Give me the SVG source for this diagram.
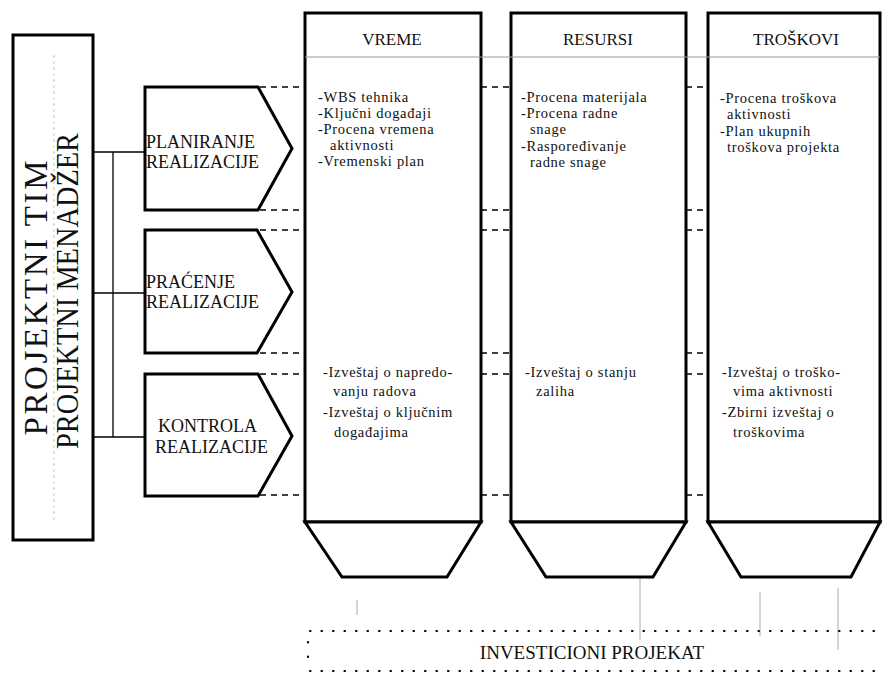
<svg xmlns="http://www.w3.org/2000/svg" width="886" height="675" viewBox="0 0 886 675">
<style>
.box{fill:#fff;stroke:#000;stroke-width:3;stroke-linejoin:miter}
.t{font-family:"Liberation Serif","Times New Roman",serif;fill:#111}
.body{font-size:14.5px;letter-spacing:0.7px}
.head{font-size:17px;text-anchor:middle}
.pt{font-size:18px}
.dash{stroke:#000;stroke-width:1.3;stroke-dasharray:6 5;fill:none}
.conn{stroke:#000;stroke-width:1.3;fill:none}
.faint{stroke:#aaa;stroke-width:1;fill:none}
.dots{stroke:#000;stroke-width:2.2;stroke-linecap:round;stroke-dasharray:0.5 11;fill:none}
</style>
<rect width="886" height="675" fill="#fff"/>

<g id="connectors">
  <line class="conn" x1="113" y1="152" x2="113" y2="437"/>
  <line class="conn" x1="93" y1="152" x2="146" y2="152"/>
  <line class="conn" x1="93" y1="293" x2="146" y2="293"/>
  <line class="conn" x1="93" y1="437" x2="146" y2="437"/>
  <g id="dashed-guides">
    <path class="dash" d="M260 87H305M481 87H511M686 87H708"/>
    <path class="dash" d="M260 210H305M481 210H511M686 210H708"/>
    <path class="dash" d="M260 230H305M481 230H511M686 230H708"/>
    <path class="dash" d="M260 353H305M481 353H511M686 353H708"/>
    <path class="dash" d="M260 374H305M481 374H511M686 374H708"/>
    <path class="dash" d="M260 495H305M481 495H511M686 495H708"/>
  </g>
  <g id="bottom-links">
    <line class="faint" x1="357" y1="600" x2="357" y2="615"/>
    <line class="faint" x1="640" y1="578" x2="640" y2="640"/>
    <line class="faint" x1="760" y1="592" x2="760" y2="636"/>
    <line class="faint" x1="838" y1="588" x2="838" y2="650"/>
  </g>
</g>

<g id="projektni-tim">
  <rect class="box" x="13" y="35" width="80" height="505"/>
  <line x1="54" y1="55" x2="54" y2="520" stroke="#c8c8c8" stroke-width="1" stroke-dasharray="3 3"/>
  <text class="t" font-size="33" text-anchor="middle" textLength="275" lengthAdjust="spacing" transform="translate(47,298) rotate(-90)">PROJEKTNI TIM</text>
  <text class="t" font-size="31" text-anchor="middle" textLength="316" lengthAdjust="spacingAndGlyphs" transform="translate(78,291) rotate(-90)">PROJEKTNI MENADŽER</text>
</g>

<g id="planiranje">
  <path class="box" d="M145 87H258L292 148.5L258 210H145Z"/>
  <text class="t pt" x="146" y="148">PLANIRANJE</text>
  <text class="t pt" x="146" y="168">REALIZACIJE</text>
</g>
<g id="pracenje">
  <path class="box" d="M145 230H257L292 292L257 353H145Z"/>
  <text class="t pt" x="146" y="288">PRAĆENJE</text>
  <text class="t pt" x="146" y="308">REALIZACIJE</text>
</g>
<g id="kontrola">
  <path class="box" d="M145 374H258L292 436L258 496H145Z"/>
  <text class="t pt" x="158" y="432">KONTROLA</text>
  <text class="t pt" x="155" y="453">REALIZACIJE</text>
</g>

<g id="vreme">
  <rect class="box" x="305" y="13" width="176" height="509"/>
  <path class="box" d="M305 522H481L447 577H342Z"/>
  <text class="t head" x="392" y="45">VREME</text>
  <text class="t body" x="318" y="102">-WBS tehnika</text>
  <text class="t body" x="318" y="118">-Ključni događaji</text>
  <text class="t body" x="318" y="134">-Procena vremena</text>
  <text class="t body" x="330" y="150">aktivnosti</text>
  <text class="t body" x="318" y="166">-Vremenski plan</text>
  <text class="t body" x="323" y="377">-Izveštaj o napredo-</text>
  <text class="t body" x="333" y="396">vanju radova</text>
  <text class="t body" x="323" y="417">-Izveštaj o ključnim</text>
  <text class="t body" x="334" y="437">događajima</text>
</g>

<g id="resursi">
  <rect class="box" x="511" y="13" width="175" height="509"/>
  <path class="box" d="M511 522H686L653 577H546Z"/>
  <text class="t head" x="598" y="45">RESURSI</text>
  <text class="t body" x="521" y="102">-Procena materijala</text>
  <text class="t body" x="521" y="118">-Procena radne</text>
  <text class="t body" x="530" y="134">snage</text>
  <text class="t body" x="521" y="151">-Raspoređivanje</text>
  <text class="t body" x="530" y="167">radne snage</text>
  <text class="t body" x="525" y="377">-Izveštaj o stanju</text>
  <text class="t body" x="536" y="396">zaliha</text>
</g>

<g id="troskovi">
  <rect class="box" x="708" y="13" width="172" height="509"/>
  <path class="box" d="M708 522H880L851 577H741Z"/>
  <text class="t head" x="796" y="45">TROŠKOVI</text>
  <text class="t body" x="720" y="103">-Procena troškova</text>
  <text class="t body" x="727" y="119">aktivnosti</text>
  <text class="t body" x="720" y="136">-Plan ukupnih</text>
  <text class="t body" x="727" y="152">troškova projekta</text>
  <text class="t body" x="722" y="377">-Izveštaj o troško-</text>
  <text class="t body" x="733" y="396">vima aktivnosti</text>
  <text class="t body" x="722" y="417">-Zbirni izveštaj o</text>
  <text class="t body" x="733" y="437">troškovima</text>
</g>

<line id="header-rule" x1="305" y1="57" x2="880" y2="57" stroke="#999" stroke-width="1"/>

<g id="investicioni-projekat">
  <line class="dots" x1="310" y1="631" x2="880" y2="631"/>
  <line class="dots" x1="310" y1="671" x2="880" y2="671"/>
  <line class="dots" x1="308" y1="642" x2="308" y2="660" style="stroke-dasharray:0.5 14"/>
  <text class="t" font-size="19" text-anchor="middle" x="592" y="659">INVESTICIONI PROJEKAT</text>
</g>
</svg>
